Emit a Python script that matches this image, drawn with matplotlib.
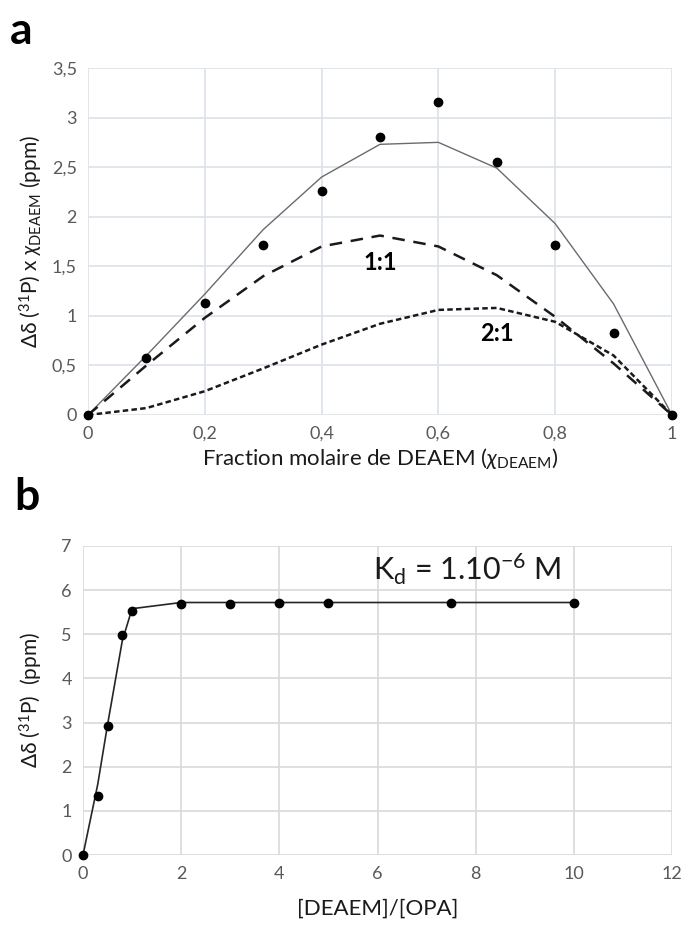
import numpy as np
import matplotlib
matplotlib.use("Agg")
import matplotlib.pyplot as plt
from matplotlib.ticker import FuncFormatter

plt.rcParams["font.family"] = ["Lato", "DejaVu Sans"]
plt.rcParams["mathtext.fontset"] = "custom"
plt.rcParams["mathtext.rm"] = "Lato"
plt.rcParams["mathtext.it"] = "Lato:italic"

# panel a : Job plot
x_frac = [0, 0.1, 0.2, 0.3, 0.4, 0.5, 0.6, 0.7, 0.8, 0.9, 1.0]
y_meas = [0, 0.57, 1.13, 1.71, 2.26, 2.80, 3.16, 2.55, 1.71, 0.83, 0]
y_fit = [0, 0.60, 1.22, 1.87, 2.40, 2.73, 2.75, 2.49, 1.93, 1.12, 0]
y_11 = [0, 0.50, 0.98, 1.40, 1.70, 1.81, 1.70, 1.41, 0.99, 0.52, 0]
y_21 = [0, 0.07, 0.24, 0.47, 0.71, 0.92, 1.06, 1.08, 0.94, 0.60, 0]

# panel b : titration
x_ratio = [0, 0.3, 0.5, 0.8, 1, 2, 3, 4, 5, 7.5, 10]
y_shift = [0, 1.33, 2.93, 4.98, 5.53, 5.68, 5.68, 5.70, 5.70, 5.70, 5.70]
y_shift_fit = [0, 1.6, 2.95, 4.85, 5.58, 5.72, 5.72, 5.72, 5.72, 5.72, 5.72]

tick_col = "#595959"
W, H = 684, 926
fig = plt.figure(figsize=(W / 100, H / 100), dpi=100)


def box(l, t, r, b):
    return [l / W, 1 - b / H, (r - l) / W, (b - t) / H]


def style(ax, gridcol):
    for s in ax.spines.values():
        s.set_visible(False)
    ax.grid(True, color=gridcol, lw=1.2)
    ax.set_axisbelow(True)
    ax.tick_params(length=0, labelsize=13, colors=tick_col, pad=8)


comma = FuncFormatter(lambda v, p: ("%g" % v).replace(".", ","))

# ---- a
ax1 = fig.add_axes(box(88, 68, 672, 415))
style(ax1, "#dbe2ea")
ax1.plot(x_frac, y_fit, color="#6b6b6b", lw=1.0, zorder=2)
ax1.plot(x_frac, y_11, color="#1a1a1a", lw=1.8, dashes=(5, 3.5), zorder=2)
ax1.plot(x_frac, y_21, color="#1a1a1a", lw=1.8, dashes=(2.2, 1.3), zorder=2)
ax1.plot(x_frac, y_meas, "o", color="black", ms=6, zorder=3, clip_on=False)
ax1.set_xlim(0, 1)
ax1.set_ylim(0, 3.5)
ax1.set_xticks(np.arange(0, 1.01, 0.2))
ax1.set_yticks(np.arange(0, 3.51, 0.5))
ax1.xaxis.set_major_formatter(comma)
ax1.yaxis.set_major_formatter(comma)
ax1.text(0.5, 1.46, "1:1", fontsize=17, fontweight="bold", ha="center")
ax1.text(0.7, 0.75, "2:1", fontsize=17, fontweight="bold", ha="center")
ax1.set_xlabel(r"Fraction molaire de DEAEM ($\chi_{\mathrm{DEAEM}}$)", fontsize=16, color="#1a1a1a", labelpad=3)
ax1.set_ylabel(r"Δδ ($^{31}$P) x $\chi_{\mathrm{DEAEM}}$ (ppm)", fontsize=15, color="#1a1a1a", labelpad=5)
fig.text(10 / W, 1 - 44 / H, "a", fontsize=32, fontweight="bold")

# ---- b
ax2 = fig.add_axes(box(83, 546, 672, 855))
style(ax2, "#d9d9d9")
ax2.plot(x_ratio, y_shift_fit, color="#262626", lw=1.2, zorder=2)
ax2.plot(x_ratio, y_shift, "o", color="black", ms=6, zorder=3, clip_on=False)
ax2.set_xlim(0, 12)
ax2.set_ylim(0, 7)
ax2.set_xticks(range(0, 13, 2))
ax2.set_yticks(range(0, 8))
ax2.text(5.9, 6.22, r"K$_\mathrm{d}$ = 1.10$^{\mathrm{-6}}$ M", fontsize=22, color="#1a1a1a")
ax2.set_xlabel("[DEAEM]/[OPA]", fontsize=16, color="#1a1a1a", labelpad=12)
ax2.set_ylabel(r"Δδ ($^{31}$P)  (ppm)", fontsize=15, color="#1a1a1a", labelpad=12)
fig.text(14 / W, 1 - 510 / H, "b", fontsize=32, fontweight="bold")

fig.savefig("out.png", dpi=100)
